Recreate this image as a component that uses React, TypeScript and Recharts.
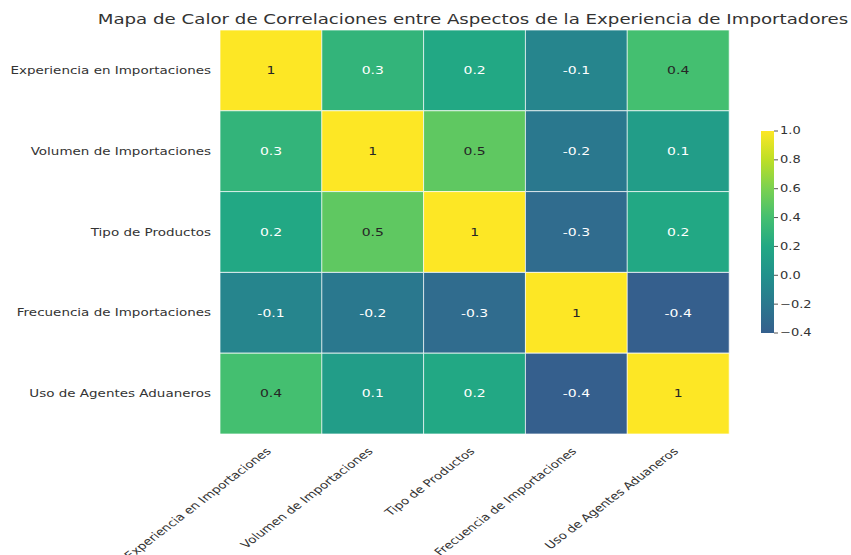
import React from "react";
import { BarChart, Bar, XAxis, YAxis, Cell, LabelList } from "recharts";

const CATEGORIES = [
  "Experiencia en Importaciones",
  "Volumen de Importaciones",
  "Tipo de Productos",
  "Frecuencia de Importaciones",
  "Uso de Agentes Aduaneros",
];

// correlation matrix, row by row
const ROW_0 = [1, 0.3, 0.2, -0.1, 0.4];
const ROW_1 = [0.3, 1, 0.5, -0.2, 0.1];
const ROW_2 = [0.2, 0.5, 1, -0.3, 0.2];
const ROW_3 = [-0.1, -0.2, -0.3, 1, -0.4];
const ROW_4 = [0.4, 0.1, 0.2, -0.4, 1];
const MATRIX = [ROW_0, ROW_1, ROW_2, ROW_3, ROW_4];

const COLORBAR_TICKS = [1.0, 0.8, 0.6, 0.4, 0.2, 0.0, -0.2, -0.4];

const TITLE =
  "Mapa de Calor de Correlaciones entre Aspectos de la Experiencia de Importadores";

const VIRIDIS = [
  "#440154", "#482475", "#414487", "#355f8d", "#2a788e", "#21918c",
  "#22a884", "#44bf70", "#7ad151", "#bddf26", "#fde725",
];

const hex = (h: string) => [1, 3, 5].map((i) => parseInt(h.slice(i, i + 2), 16));

function viridisRGB(t: number) {
  const c = Math.max(0, Math.min(1, t)) * 10;
  const i = Math.min(9, Math.floor(c));
  const f = c - i;
  const a = hex(VIRIDIS[i]);
  const b = hex(VIRIDIS[i + 1]);
  return a.map((x, k) => Math.round(x + (b[k] - x) * f));
}

// vmin -1, vmax 1
const colorFor = (v: number) => {
  const [r, g, b] = viridisRGB((v + 1) / 2);
  return `rgb(${r},${g},${b})`;
};
const textColorFor = (v: number) => {
  const [r, g, b] = viridisRGB((v + 1) / 2);
  const lum = 0.2126 * r + 0.7152 * g + 0.0722 * b;
  return lum > 150 ? "#262626" : "#ffffff";
};

const FONT = "'DejaVu Sans', sans-serif";
// the reference image is squashed vertically, so text is too
const SQ = 0.76;
const INK = "#333";

const data = CATEGORIES.map((c) => {
  const d: Record<string, number | string> = { name: c };
  MATRIX.forEach((_, k) => (d[`r${k}`] = 1));
  return d;
});

const XTick = (props: any) => {
  const { x, y, payload } = props;
  return (
    <g transform={`translate(${x + 1},${y + 10}) scale(1,${SQ}) rotate(-45)`}>
      <text textAnchor="end" fontSize={13.5} fontFamily={FONT} fill={INK}>
        {payload.value}
      </text>
    </g>
  );
};

const YTick = (props: any) => {
  const { y, payload } = props;
  return (
    <g transform={`translate(211,${y}) scale(1,${SQ})`}>
      <text textAnchor="end" dy="0.35em" fontSize={13.5} fontFamily={FONT} fill={INK}>
        {CATEGORIES[Math.floor(payload.value)]}
      </text>
    </g>
  );
};

const Overlay = () => {
  const top = 131;
  const bottom = 333;
  const x = 761;
  const w = 13;
  const yOf = (v: number) => top + ((1 - v) / 1.4) * (bottom - top);
  const stops = VIRIDIS.slice(3);
  return (
    <svg
      width={851}
      height={555}
      style={{ position: "absolute", left: 0, top: 0, pointerEvents: "none" }}
    >
      <defs>
        <linearGradient id="cbar" x1="0" y1="1" x2="0" y2="0">
          {stops.map((s, i) => (
            <stop key={i} offset={i / (stops.length - 1)} stopColor={s} />
          ))}
        </linearGradient>
      </defs>
      <g transform={`translate(473,19) scale(1,${SQ})`}>
        <text textAnchor="middle" dy="0.35em" fontSize={18.2} fontFamily={FONT} fill={INK}>
          {TITLE}
        </text>
      </g>
      <rect x={x} y={top} width={w} height={bottom - top} fill="url(#cbar)" />
      {COLORBAR_TICKS.map((t) => (
        <g key={t}>
          <line x1={x + w} x2={x + w + 4} y1={yOf(t)} y2={yOf(t)} stroke="#555" />
          <g transform={`translate(${x + w + 6},${yOf(t)}) scale(1,${SQ})`}>
            <text dy="0.35em" fontSize={13} fontFamily={FONT} fill={INK}>
              {t < 0 ? `\u2212${Math.abs(t).toFixed(1)}` : t.toFixed(1)}
            </text>
          </g>
        </g>
      ))}
    </svg>
  );
};

export default function App() {
  return (
    <div
      style={{
        position: "absolute",
        left: 0,
        top: 0,
        width: 851,
        height: 555,
        background: "#fff",
      }}
    >
      <div style={{ position: "absolute", left: 0, top: 0 }}>
        <BarChart
          width={851}
          height={555}
          data={data}
          margin={{ top: 30, right: 122, left: 8, bottom: 0 }}
          barCategoryGap={0}
          barGap={0}
        >
          <XAxis
            dataKey="name"
            axisLine={false}
            tickLine={false}
            interval={0}
            height={121}
            tick={<XTick />}
          />
          <YAxis
            type="number"
            domain={[0, 5]}
            reversed
            width={212}
            axisLine={false}
            tickLine={false}
            ticks={[0.5, 1.5, 2.5, 3.5, 4.5]}
            tick={<YTick />}
          />
          {MATRIX.map((row, k) => (
            <Bar
              key={k}
              dataKey={`r${k}`}
              stackId="s"
              isAnimationActive={false}
              stroke="rgba(255,255,255,0.7)"
              strokeWidth={1}
            >
              {row.map((_, j) => (
                <Cell key={j} fill={colorFor(MATRIX[k][j])} />
              ))}
              <LabelList
                dataKey={`r${k}`}
                content={(p: any) => {
                  const v = MATRIX[k][p.index];
                  return (
                    <g
                      transform={`translate(${p.x + p.width / 2},${
                        p.y + p.height / 2
                      }) scale(1,${SQ})`}
                    >
                      <text
                        dy="0.35em"
                        textAnchor="middle"
                        fontSize={14}
                        fontFamily={FONT}
                        fill={textColorFor(v)}
                      >
                        {String(v)}
                      </text>
                    </g>
                  );
                }}
              />
            </Bar>
          ))}
        </BarChart>
      </div>
      <Overlay />
    </div>
  );
}
